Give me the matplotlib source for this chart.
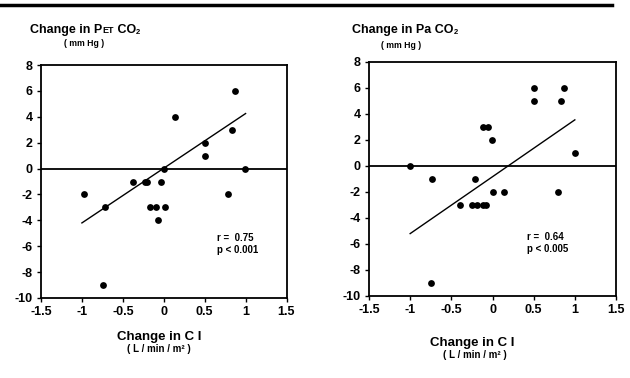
import matplotlib
matplotlib.use("Agg")
import matplotlib.pyplot as plt
from matplotlib.lines import Line2D

plt.rcParams['font.family'] = ['Liberation Sans', 'DejaVu Sans']
plt.rcParams['axes.unicode_minus'] = False

# Left panel: change in PET CO2 vs change in CI
ci_left = [-0.98, -0.72, -0.74, -0.38, -0.23, -0.20, -0.03, -0.17, -0.095, 0.01,
           -0.07, 0.0, 0.14, 0.50, 0.50, 0.78, 0.83, 0.87, 0.99]
pet_co2 = [-2, -3, -9, -1, -1, -1, -1, -3, -3, -3,
           -4, 0, 4, 2, 1, -2, 3, 6, 0]
fit_left_x = [-1.0, 1.0]
fit_left_y = [-4.2, 4.25]
stats_left = ["r =  0.75", "p < 0.001"]

# Right panel: change in Pa CO2 vs change in CI
ci_right = [-1.0, -0.73, -0.75, -0.40, -0.25, -0.19, -0.11, -0.08, -0.21,
            -0.12, -0.05, -0.01, 0.0, 0.145, 0.50, 0.50, 0.79, 0.83, 0.87, 1.0]
pa_co2 = [0, -1, -9, -3, -3, -3, -3, -3, -1,
          3, 3, 2, -2, -2, 6, 5, -2, 5, 6, 1]
fit_right_x = [-1.0, 1.0]
fit_right_y = [-5.2, 3.55]
stats_right = ["r =  0.64", "p < 0.005"]

xticks = [-1.5, -1, -0.5, 0, 0.5, 1, 1.5]
xticklabels = ["-1.5", "-1", "-0.5", "0", "0.5", "1", "1.5"]
yticks = [-10, -8, -6, -4, -2, 0, 2, 4, 6, 8]

W, H = 630, 378
fig = plt.figure(figsize=(W / 100, H / 100), dpi=100)
fig.patch.set_facecolor('white')

def px_axes(x0, x1, ytop, ybot):
    return fig.add_axes([x0 / W, 1 - ybot / H, (x1 - x0) / W, (ybot - ytop) / H])

def style_axes(ax, xs, ys, fx, fy, stats, sx, sy):
    ax.scatter(xs, ys, s=24, color='black', zorder=3, linewidths=0)
    ax.plot(fx, fy, color='black', lw=1.0, zorder=2)
    ax.axhline(0, color='black', lw=1.3, zorder=1)
    ax.set_xlim(-1.5, 1.5)
    ax.set_ylim(-10, 8)
    ax.set_xticks(xticks)
    ax.set_xticklabels(xticklabels)
    ax.set_yticks(yticks)
    for sp in ax.spines.values():
        sp.set_linewidth(1.3)
        sp.set_color('black')
    ax.tick_params(direction='out', length=3, width=1, pad=3,
                   labelsize=9, colors='black')
    for lab in ax.get_xticklabels() + ax.get_yticklabels():
        lab.set_fontweight('bold')
    ax.text(sx, sy, stats[0] + "\n" + stats[1], fontsize=7, fontweight='bold',
            transform=ax.transData, va='top', ha='left', linespacing=1.25)

axL = px_axes(41, 286.5, 65, 298)
style_axes(axL, ci_left, pet_co2, fit_left_x, fit_left_y, stats_left, 0.65, -5.0)
axR = px_axes(369, 616, 62, 296)
style_axes(axR, ci_right, pa_co2, fit_right_x, fit_right_y, stats_right, 0.42, -5.1)

renderer = fig.canvas.get_renderer()

def rich(x_px, base_px, pieces):
    x = x_px
    for s, size, dy in pieces:
        t = fig.text(x / W, 1 - (base_px + dy) / H, s, fontsize=size,
                     fontweight='bold', va='baseline', ha='left')
        bb = t.get_window_extent(renderer)
        x += bb.width

def centered(xc, base_px, s, size):
    fig.text(xc / W, 1 - base_px / H, s, fontsize=size, fontweight='bold',
             ha='center', va='baseline')

# Titles
rich(30, 33, [("Change in P", 9, 0), ("ET", 6.5, 0), (" CO", 9, 0), ("2", 5.5, 1.5)])
centered(84, 46.5, "( mm Hg )", 6.2)
rich(352, 33, [("Change in Pa CO", 9, 0), ("2", 5.5, 1.5)])
centered(401, 47.5, "( mm Hg )", 6.2)

# X labels
centered(159, 340, "Change in C I", 9.5)
centered(159, 352, "( L / min / m² )", 7)
centered(472, 346, "Change in C I", 9.5)
centered(475, 358, "( L / min / m² )", 7)

# Top rule
fig.add_artist(Line2D([0, 612 / W], [1 - 5 / H, 1 - 5 / H], color='black', lw=2.5,
                      transform=fig.transFigure))

fig.savefig("out.png", dpi=100)
